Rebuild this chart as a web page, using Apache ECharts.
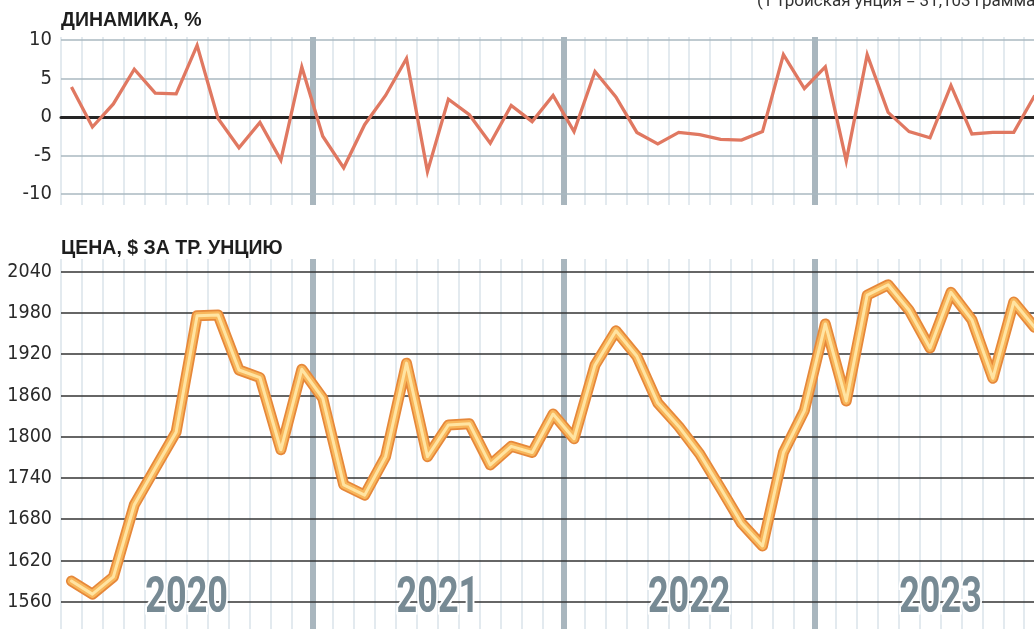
<!DOCTYPE html>
<html>
<head>
<meta charset="utf-8">
<title>Золото: цена и динамика</title>
<script src="https://cdn.jsdelivr.net/npm/echarts@6/dist/echarts.min.js"></script>
<style>
  html, body { margin: 0; padding: 0; background: #fff; }
  #chart { width: 1034px; height: 629px; }
</style>
</head>
<body>
<div id="chart"></div>
<script>
// --- data ---
const years = ["2020", "2021", "2022", "2023"];
const monthNums = ["01", "02", "03", "04", "05", "06", "07", "08", "09", "10", "11", "12"];
const months = [];
years.forEach(y => monthNums.forEach(m => months.push(y + "-" + m)));

// monthly change, %
const changePct = [
  3.9, -1.3, 1.7, 6.2, 3.1, 3.0, 9.3, -0.2, -4.0, -0.7, -5.6, 6.5,
  -2.5, -6.6, -1.0, 2.8, 7.6, -7.1, 2.3, 0.3, -3.4, 1.5, -0.6, 2.8,
  -1.9, 5.9, 2.6, -2.0, -3.5, -2.0, -2.3, -2.9, -3.0, -1.9, 8.1, 3.7,
  6.5, -5.7, 8.1, 0.6, -1.9, -2.7, 4.1, -2.2, -2.0, -2.0, 2.8
];

// price, $ per troy ounce
const price = [
  1590, 1571, 1596, 1701, 1754, 1807, 1976, 1977, 1897, 1886, 1781, 1898,
  1856, 1730, 1715, 1771, 1907, 1771, 1817, 1819, 1759, 1786, 1777, 1833,
  1797, 1904, 1954, 1917, 1849, 1815, 1775, 1725, 1674, 1641, 1777, 1838,
  1964, 1852, 2006, 2021, 1984, 1929, 2010, 1970, 1885, 1996, 1959
];

const changeMin = -10, changeMax = 10, changeStep = 5;
const priceMin = 1560, priceMax = 2040, priceStep = 60;

// --- layout ---
const BAND = 20.94;
const LEFT = 61;
const W = BAND * months.length;
const labelFont = "'DejaVu Sans Condensed', 'Liberation Sans', sans-serif";
const titleFont = "bold 19.5px 'Liberation Sans', sans-serif";

const chart = echarts.init(document.getElementById("chart"), null, { renderer: "canvas" });

const hidden = { show: false };
function bgAxis(grid, step, color, width, z, minLine) {
  return {
    type: "value", gridIndex: grid, min: 0, max: months.length, interval: step,
    axisLine: hidden, axisTick: hidden, axisLabel: hidden, z: z,
    splitLine: { show: true, showMinLine: minLine, showMaxLine: false, lineStyle: { color: color, width: width } }
  };
}

const option = {
  animation: false,
  grid: [
    { left: LEFT, top: 40, width: W, height: 154, outerBoundsMode: "none" },
    { left: LEFT, top: 37, width: W, height: 168, outerBoundsMode: "none" },
    { left: LEFT, top: 271.7, width: W, height: 330, outerBoundsMode: "none" },
    { left: LEFT, top: 259, width: W, height: 390, outerBoundsMode: "none" }
  ],
  xAxis: [
    {
      type: "category", gridIndex: 0, data: months, boundaryGap: true, z: 3,
      axisLine: { show: true, onZero: true, lineStyle: { color: "#252525", width: 3 } },
      axisTick: hidden, axisLabel: hidden, splitLine: hidden
    },
    bgAxis(1, 1, "#e3eaef", 2, 0, true),
    bgAxis(1, 12, "#a9b6be", 6, 1, false),
    {
      type: "category", gridIndex: 2, data: months, boundaryGap: true,
      axisLine: hidden, axisTick: hidden, axisLabel: hidden, splitLine: hidden
    },
    {
      type: "category", gridIndex: 2, data: years, boundaryGap: true, position: "bottom",
      axisLine: hidden, axisTick: hidden, splitLine: hidden, axisLabel: hidden
    },
    bgAxis(3, 1, "#e3eaef", 2, 0, true),
    bgAxis(3, 12, "#a9b6be", 6, 1, false)
  ],
  yAxis: [
    {
      type: "value", gridIndex: 0, min: changeMin, max: changeMax, interval: changeStep, z: 2,
      axisLine: hidden, axisTick: hidden,
      axisLabel: { margin: 9, fontFamily: labelFont, fontSize: 20, color: "#2a2a2a", formatter: v => String(v) },
      splitLine: { lineStyle: { color: "#aab8c1", width: 1.5 } }
    },
    { type: "value", gridIndex: 1, show: false },
    {
      type: "value", gridIndex: 2, min: priceMin, max: priceMax, interval: priceStep, z: 2,
      axisLine: hidden, axisTick: hidden,
      axisLabel: { margin: 9, fontFamily: labelFont, fontSize: 19.5, color: "#2a2a2a", formatter: v => String(v) },
      splitLine: { lineStyle: { color: "#333333", width: 1.5 } }
    },
    { type: "value", gridIndex: 3, show: false }
  ],
  series: [
    {
      type: "line", xAxisIndex: 0, yAxisIndex: 0, data: changePct, showSymbol: false, silent: true, z: 5,
      lineStyle: { color: "#e07861", width: 3.3, join: "miter" }
    },
    {
      type: "line", xAxisIndex: 3, yAxisIndex: 2, data: price, showSymbol: false, silent: true, z: 5,
      lineStyle: { color: "#e6883a", width: 11, join: "round", cap: "round" }
    },
    {
      type: "line", xAxisIndex: 3, yAxisIndex: 2, data: price, showSymbol: false, silent: true, z: 6,
      lineStyle: { color: "#f8b65b", width: 7.5, join: "round", cap: "round" }
    },
    {
      type: "line", xAxisIndex: 3, yAxisIndex: 2, data: price, showSymbol: false, silent: true, z: 7,
      lineStyle: { color: "#ffe4a2", width: 3, join: "round", cap: "round" }
    }
  ],
  graphic: [
    {
      type: "text", left: LEFT, top: 11, z: 20,
      style: { text: "ДИНАМИКА, %", font: titleFont, fill: "#1e1e1e" }
    },
    {
      type: "text", left: LEFT, top: 239, z: 20,
      style: { text: "ЦЕНА, $ ЗА ТР. УНЦИЮ", font: titleFont, fill: "#1e1e1e" }
    },
    {
      type: "text", left: 757, top: -7, z: 20,
      style: { text: "(1 тройская унция = 31,103 грамма)", font: "17px Roboto, sans-serif", fill: "#333" }
    }
  ]
};

chart.setOption(option);

// big year labels, centred on each year band of the year axis, condensed horizontally
const yearY = chart.convertToPixel({ yAxisIndex: 2 }, priceMin) - 2;
const yearLabels = years.map((y, i) => ({
  type: "text", id: "year" + i, z: 30,
  x: chart.convertToPixel({ xAxisIndex: 4 }, y), y: yearY,
  scaleX: 0.72,
  style: {
    text: y, font: "bold 50px Roboto, sans-serif", fill: "#778a94",
    stroke: "#fff", lineWidth: 5, strokeFirst: true,
    align: "center", verticalAlign: "middle"
  }
}));
chart.setOption({ graphic: yearLabels });
</script>
</body>
</html>
